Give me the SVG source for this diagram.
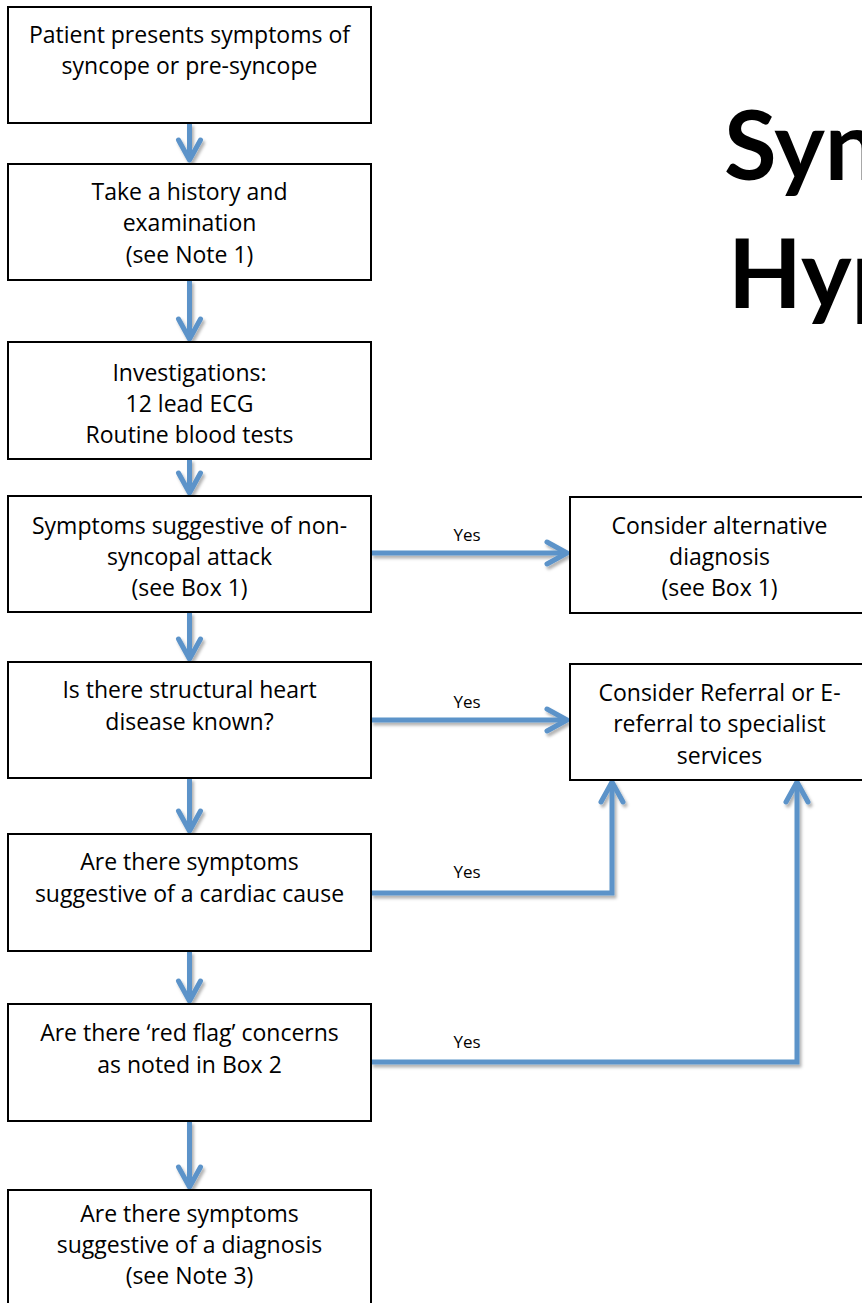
<svg xmlns="http://www.w3.org/2000/svg" width="862" height="1303" viewBox="0 0 862 1303">
<style>
.box{fill:#ffffff;stroke:#000000;stroke-width:2}
.t{font-family:"Open Sans",Lato,"Liberation Sans",sans-serif;font-size:23px;fill:#000000;text-anchor:middle}
.yes{font-family:"Open Sans",Lato,"Liberation Sans",sans-serif;font-size:17px;fill:#000000;text-anchor:middle}
.title{font-family:Lato,"Open Sans","Liberation Sans",sans-serif;font-size:96px;font-weight:bold;fill:#000000}
.conn{fill:none;stroke:#5b93c9;stroke-width:5;stroke-linejoin:miter;marker-end:url(#chev)}
</style>
<defs>
<marker id="chev" markerUnits="userSpaceOnUse" viewBox="-26 -15 30 30" refX="0" refY="0" markerWidth="30" markerHeight="30" orient="auto">
<path d="M-20,-11 L0,0 L-20,11" fill="none" stroke="#5b93c9" stroke-width="5" stroke-linecap="round" stroke-linejoin="round"/>
</marker>
<filter id="sh" x="-10%" y="-10%" width="130%" height="130%">
<feDropShadow dx="2" dy="3" stdDeviation="1.8" flood-color="#000000" flood-opacity="0.3"/>
</filter>
</defs>
<rect width="862" height="1303" fill="#ffffff"/>
<g id="title">
<text class="title" x="724" y="180">Syn</text>
<text class="title" x="728" y="308">Hyp</text>
</g>
<g id="connectors" filter="url(#sh)">
<path class="conn" d="M189.5,123 V160"/>
<path class="conn" d="M189.5,280 V339"/>
<path class="conn" d="M189.5,459 V493"/>
<path class="conn" d="M189.5,612 V659"/>
<path class="conn" d="M189.5,778 V831"/>
<path class="conn" d="M189.5,951 V1001"/>
<path class="conn" d="M189.5,1121 V1187"/>
<path class="conn" d="M371,553 H567"/>
<path class="conn" d="M371,720 H567"/>
<path class="conn" d="M371,893 H612 V782"/>
<path class="conn" d="M371,1062 H797 V782"/>
</g>
<g id="labels">
<text class="yes" x="467" y="541">Yes</text>
<text class="yes" x="467" y="708">Yes</text>
<text class="yes" x="467" y="878">Yes</text>
<text class="yes" x="467" y="1048">Yes</text>
</g>
<g id="n1"><rect class="box" x="8" y="7" width="363" height="116"/>
<text class="t" x="189.5" y="43">Patient presents symptoms of</text>
<text class="t" x="189.5" y="74">syncope or pre-syncope</text></g>
<g id="n2"><rect class="box" x="8" y="164" width="363" height="116"/>
<text class="t" x="189.5" y="200">Take a history and</text>
<text class="t" x="189.5" y="231">examination</text>
<text class="t" x="189.5" y="263">(see Note 1)</text></g>
<g id="n3"><rect class="box" x="8" y="342" width="363" height="117"/>
<text class="t" x="189.5" y="381">Investigations:</text>
<text class="t" x="189.5" y="412">12 lead ECG</text>
<text class="t" x="189.5" y="443">Routine blood tests</text></g>
<g id="n4"><rect class="box" x="8" y="496" width="363" height="116"/>
<text class="t" x="189.5" y="534">Symptoms suggestive of non-</text>
<text class="t" x="189.5" y="565">syncopal attack</text>
<text class="t" x="189.5" y="596">(see Box 1)</text></g>
<g id="n5"><rect class="box" x="8" y="662" width="363" height="116"/>
<text class="t" x="189.5" y="698">Is there structural heart</text>
<text class="t" x="189.5" y="730">disease known?</text></g>
<g id="n6"><rect class="box" x="8" y="834" width="363" height="117"/>
<text class="t" x="189.5" y="870">Are there symptoms</text>
<text class="t" x="189.5" y="902">suggestive of a cardiac cause</text></g>
<g id="n7"><rect class="box" x="8" y="1004" width="363" height="117"/>
<text class="t" x="189.5" y="1041">Are there ‘red flag’ concerns</text>
<text class="t" x="189.5" y="1073">as noted in Box 2</text></g>
<g id="n8"><rect class="box" x="8" y="1190" width="363" height="116"/>
<text class="t" x="189.5" y="1222">Are there symptoms</text>
<text class="t" x="189.5" y="1253">suggestive of a diagnosis</text>
<text class="t" x="189.5" y="1284">(see Note 3)</text></g>
<g id="alt"><rect class="box" x="570" y="497" width="299" height="116"/>
<text class="t" x="719.5" y="534">Consider alternative</text>
<text class="t" x="719.5" y="565">diagnosis</text>
<text class="t" x="719.5" y="596">(see Box 1)</text></g>
<g id="ref"><rect class="box" x="570" y="664" width="299" height="116"/>
<text class="t" x="719.5" y="701">Consider Referral or E-</text>
<text class="t" x="719.5" y="732">referral to specialist</text>
<text class="t" x="719.5" y="764">services</text></g>
</svg>
